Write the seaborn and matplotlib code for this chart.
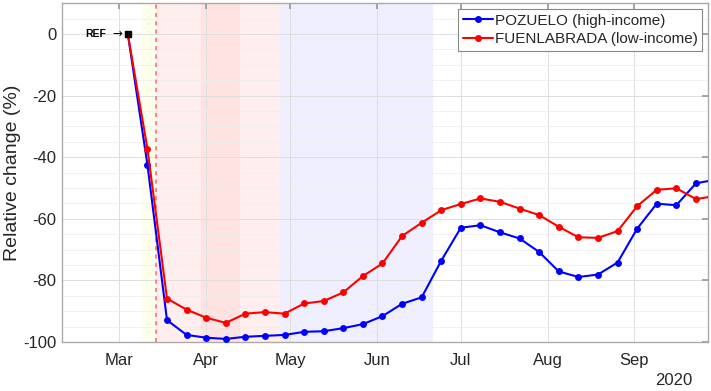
import matplotlib
matplotlib.use("Agg")
import matplotlib.pyplot as plt
import matplotlib.dates as mdates
from matplotlib.ticker import MultipleLocator
import numpy as np
import pandas as pd
import seaborn as sns

# ---------------- data ----------------
dates = pd.date_range("2020-03-04", periods=31, freq="7D")

pozuelo = [0, -42.4, -92.9, -97.7, -98.6, -99.0, -98.3, -98.0, -97.7, -96.7,
           -96.5, -95.5, -94.2, -91.6, -87.6, -85.5, -73.6, -62.9, -62.1, -64.4,
           -66.4, -70.8, -77.1, -78.9, -78.1, -74.2, -63.2, -55.1, -55.6, -48.5,
           -47.3]
fuenlabrada = [0, -37.2, -85.9, -89.5, -92.1, -93.8, -90.8, -90.3, -90.8, -87.5,
               -86.7, -83.9, -78.6, -74.5, -65.6, -61.3, -57.2, -55.2, -53.4, -54.5,
               -56.7, -58.8, -62.6, -66.0, -66.2, -64.0, -55.9, -50.6, -50.1, -53.6,
               -52.6]
series_names = ["POZUELO (high-income)", "FUENLABRADA (low-income)"]
series_colors = ["#0000ff", "#ff0000"]

# shaded phases: (start, end, colour)
phase_starts = ["2020-03-09", "2020-03-14", "2020-03-30", "2020-04-13", "2020-04-27"]
phase_ends = ["2020-03-14", "2020-03-30", "2020-04-13", "2020-04-27", "2020-06-21"]
phase_colors = ["#ffffec", "#ffeeee", "#ffe2e2", "#ffeeee", "#efefff"]
alarm_date = "2020-03-14"
ref_date = "2020-03-04"

df = pd.DataFrame({
    "date": list(dates) * 2,
    "value": pozuelo + fuenlabrada,
    "series": [series_names[0]] * len(dates) + [series_names[1]] * len(dates),
})

# ---------------- plot ----------------
sns.set_theme(style="white")
plt.rcParams["font.family"] = ["Liberation Sans", "DejaVu Sans"]
plt.rcParams["axes.unicode_minus"] = False

fig = plt.figure(figsize=(7.11, 3.91), dpi=100)
ax = fig.add_axes([0.0876, 0.1253, 0.9086, 0.8667])

for s, e, c in zip(phase_starts, phase_ends, phase_colors):
    ax.axvspan(pd.Timestamp(s), pd.Timestamp(e), color=c, lw=0, zorder=0)

sns.lineplot(data=df, x="date", y="value", hue="series", hue_order=series_names,
             palette=series_colors, marker="o", markersize=5, markeredgewidth=0,
             linewidth=1.5, ax=ax, zorder=3)

ax.axvline(pd.Timestamp(alarm_date), color="#ff7070", ls=(0, (2.5, 2.5)), lw=1.2, zorder=2)
ax.plot([pd.Timestamp(ref_date)], [0], marker="s", color="black", ms=5, zorder=5)
ax.text(pd.Timestamp(ref_date) - pd.Timedelta(days=7.6), 0, "REF",
        ha="right", va="center", fontsize=7.5, fontweight="bold", color="black")
ax.text(pd.Timestamp(ref_date) - pd.Timedelta(days=2.0), 0.3, "\u2192",
        ha="right", va="center", fontsize=8.5, color="black", family=["DejaVu Sans"])

ax.set_xlim(pd.Timestamp("2020-02-09 14:00"), pd.Timestamp("2020-09-27 10:00"))
ax.set_ylim(-100, 10)
ax.yaxis.set_major_locator(MultipleLocator(20))
ax.yaxis.set_minor_locator(MultipleLocator(5))
ax.xaxis.set_major_locator(mdates.MonthLocator())
ax.xaxis.set_major_formatter(mdates.DateFormatter("%b"))

ax.grid(True, which="major", color="#dedede", lw=0.7, zorder=1)
ax.grid(True, which="minor", axis="y", color="#efefef", lw=0.6, zorder=1)
ax.set_axisbelow(True)

for sp in ax.spines.values():
    sp.set_color("#aaaaaa")
    sp.set_linewidth(1.0)
ax.tick_params(axis="both", which="major", direction="in", length=4, color="#999999",
               top=True, right=True, labelsize=12, labelcolor="#262626")
ax.tick_params(axis="x", which="major", pad=8)
ax.tick_params(axis="y", which="major", pad=4)
ax.tick_params(axis="y", which="minor", length=0)

ax.set_xlabel("")
ax.set_ylabel("Relative change (%)", fontsize=14, color="#262626", labelpad=2)
ax.text(0.976, -0.09, "2020", transform=ax.transAxes, ha="right", va="top",
        fontsize=12, color="#262626")

leg = ax.legend(loc="upper right", fontsize=11, frameon=True, fancybox=False,
                borderpad=0.3, labelspacing=0.3, handlelength=2.0, handletextpad=0.1,
                borderaxespad=0.4)
leg.get_frame().set_edgecolor("#888888")
leg.get_frame().set_linewidth(0.8)
leg.get_frame().set_alpha(1.0)

fig.savefig("out.png", dpi=100)
